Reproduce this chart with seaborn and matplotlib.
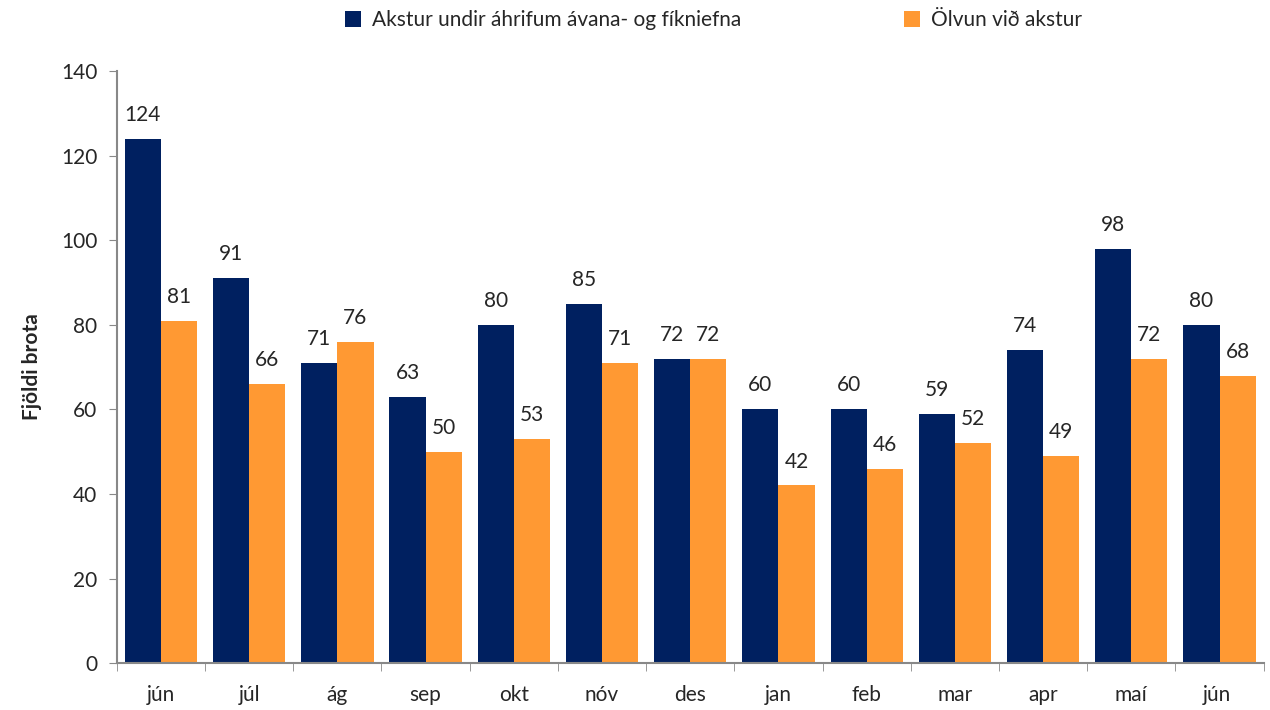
import pandas as pd
import seaborn as sns
import matplotlib.pyplot as plt

# Gögn
manudir = ["jún", "júl", "ág", "sep", "okt", "nóv", "des", "jan", "feb", "mar", "apr", "maí", "jún "]
fikniefni = [124, 91, 71, 63, 80, 85, 72, 60, 60, 59, 74, 98, 80]
olvun = [81, 66, 76, 50, 53, 71, 72, 42, 46, 52, 49, 72, 68]
flokkar = ["Akstur undir áhrifum ávana- og fíkniefna", "Ölvun við akstur"]
litir = ["#002060", "#FF9933"]

df = pd.DataFrame({
    "Mánuður": manudir * 2,
    "Fjöldi": fikniefni + olvun,
    "Flokkur": [flokkar[0]] * len(manudir) + [flokkar[1]] * len(manudir),
})

sns.set_style("white")
plt.rcParams["font.family"] = ["Lato", "DejaVu Sans"]
plt.rcParams["font.size"] = 15

fig, ax = plt.subplots(figsize=(12.7, 7.1), dpi=100)
fig.subplots_adjust(left=0.092, right=0.995, bottom=0.066, top=0.9)

sns.barplot(data=df, x="Mánuður", y="Fjöldi", hue="Flokkur", palette=litir,
            width=0.82, gap=0, saturation=1, linewidth=0, ax=ax)

for c in ax.containers:
    ax.bar_label(c, fmt="%d", padding=10, fontsize=15)

ax.set_ylim(0, 140)
ax.set_yticks(range(0, 141, 20))
ax.set_xlim(-0.5, len(manudir) - 0.5)
ax.set_xlabel("")
ax.set_ylabel("Fjöldi brota", fontsize=15, fontweight="bold", labelpad=14)

# ticks á mörkum flokka
ax.set_xticks([i - 0.5 for i in range(len(manudir) + 1)], minor=True)
ax.tick_params(axis="x", which="major", length=0, pad=16, labelsize=15)
ax.tick_params(axis="x", which="minor", length=6, color="#888888", direction="out", bottom=True)
ax.tick_params(axis="y", length=6, color="#888888", direction="out", left=True, labelsize=15, pad=8)

for s in ["top", "right"]:
    ax.spines[s].set_visible(False)
for s in ["left", "bottom"]:
    ax.spines[s].set_color("#888888")
    ax.spines[s].set_linewidth(1.5)

ax.legend(loc="upper center", bbox_to_anchor=(0.52, 1.135), ncol=2, frameon=False,
          handlelength=0.8, handleheight=0.8, handletextpad=0.5, columnspacing=7.8, fontsize=15)

plt.savefig("out.png")
